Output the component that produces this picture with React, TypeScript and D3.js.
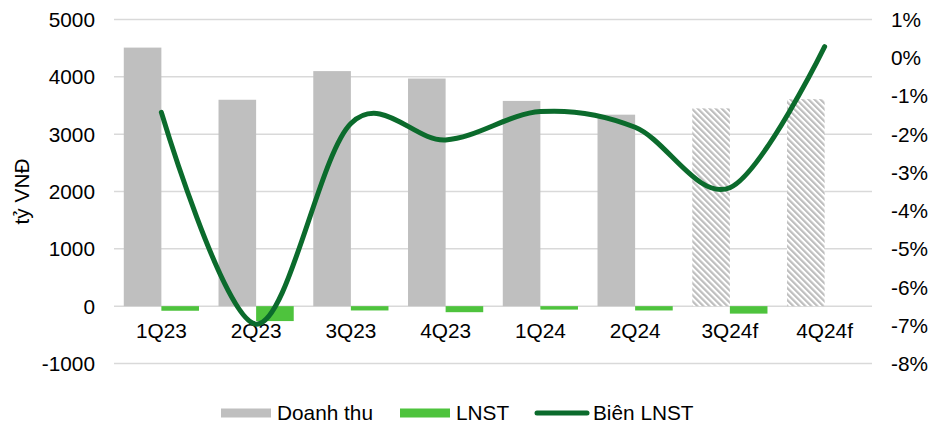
import React, { useEffect } from "react";
import * as d3 from "d3";

const categories = ["1Q23", "2Q23", "3Q23", "4Q23", "1Q24", "2Q24", "3Q24f", "4Q24f"];
const revenue = [4510, 3600, 4100, 3970, 3580, 3340, 3450, 3610];
const profit = [-80, -260, -75, -105, -60, -75, -130, 0];
const margin = [-1.43, -6.97, -1.72, -2.15, -1.41, -1.82, -3.4, 0.29];
const forecast = [false, false, false, false, false, false, true, true];
const leftTicks = [5000, 4000, 3000, 2000, 1000, 0, -1000];
const rightTicks = [1, 0, -1, -2, -3, -4, -5, -6, -7, -8];

const W = 942;
const H = 425;
const FONT = "'Liberation Sans', Arial, sans-serif";
const FS = 20.8;

export default function App() {
  useEffect(() => {
    document.body.style.margin = "0";
  }, []);

  const x = d3.scaleBand<string>().domain(categories).range([114, 872]).padding(0);
  const yL = d3.scaleLinear().domain([-1000, 5000]).range([363.5, 19.5]);
  const yR = d3.scaleLinear().domain([-8, 1]).range([363.5, 19.5]);
  const bw = 37.6;
  const cx = (c: string) => (x(c) as number) + x.bandwidth() / 2;

  const line = d3
    .line<number>()
    .x((_, i) => cx(categories[i]))
    .y((d) => yR(d))
    .curve(d3.curveCardinal.tension(0));

  return (
    <svg width={W} height={H} style={{ display: "block" }} fontFamily={FONT}>
      <defs>
        <pattern id="hatch" width="4.24" height="4.24" patternUnits="userSpaceOnUse" patternTransform="rotate(-45)">
          <rect width="4.24" height="4.24" fill="#ffffff" />
          <line x1="1.06" y1="0" x2="1.06" y2="4.24" stroke="#BDBDBD" strokeWidth="2.2" />
        </pattern>
      </defs>
      {/* gridlines */}
      {leftTicks.map((t) => (
        <line key={t} x1={114} x2={872} y1={yL(t)} y2={yL(t)} stroke="#D9D9D9" strokeWidth={1.5} />
      ))}
      {/* left tick labels */}
      {leftTicks.map((t) => (
        <text key={"l" + t} x={95} y={yL(t)} dy="0.36em" textAnchor="end" fontSize={FS} fill="#000">
          {t}
        </text>
      ))}
      {/* right tick labels */}
      {rightTicks.map((t) => (
        <text key={"r" + t} x={891} y={yR(t)} dy="0.36em" textAnchor="start" fontSize={FS} fill="#000">
          {t + "%"}
        </text>
      ))}
      {/* revenue bars */}
      {categories.map((c, i) => (
        <rect
          key={"rev" + c}
          x={cx(c) - bw}
          y={yL(revenue[i])}
          width={bw}
          height={yL(0) - yL(revenue[i])}
          fill={forecast[i] ? "url(#hatch)" : "#BFBFBF"}
        />
      ))}
      {/* profit bars */}
      {categories.map((c, i) => (
        <rect
          key={"pro" + c}
          x={cx(c)}
          y={Math.min(yL(0), yL(profit[i]))}
          width={bw}
          height={Math.abs(yL(profit[i]) - yL(0))}
          fill="#4EC33D"
        />
      ))}
      {/* category labels */}
      {categories.map((c) => (
        <text key={"c" + c} x={cx(c)} y={338} textAnchor="middle" fontSize={FS} fill="#000">
          {c}
        </text>
      ))}
      {/* margin line */}
      <path d={line(margin) || ""} fill="none" stroke="#0B6B2C" strokeWidth={5} strokeLinecap="round" strokeLinejoin="round" />
      {/* y-axis title */}
      <text transform="translate(29,191.5) rotate(-90)" textAnchor="middle" fontSize={FS} fill="#000">
        tỷ VNĐ
      </text>
      {/* legend */}
      <rect x={221} y={408.5} width={50} height={9} fill="#BFBFBF" />
      <text x={277} y={420} fontSize={FS} fill="#000">Doanh thu</text>
      <rect x={400} y={408.5} width={50} height={9} fill="#4EC33D" />
      <text x={456} y={420} fontSize={FS} fill="#000">LNST</text>
      <line x1={537} x2={587} y1={413} y2={413} stroke="#0B6B2C" strokeWidth={5} strokeLinecap="round" />
      <text x={593} y={420} fontSize={FS} fill="#000">Biên LNST</text>
    </svg>
  );
}
